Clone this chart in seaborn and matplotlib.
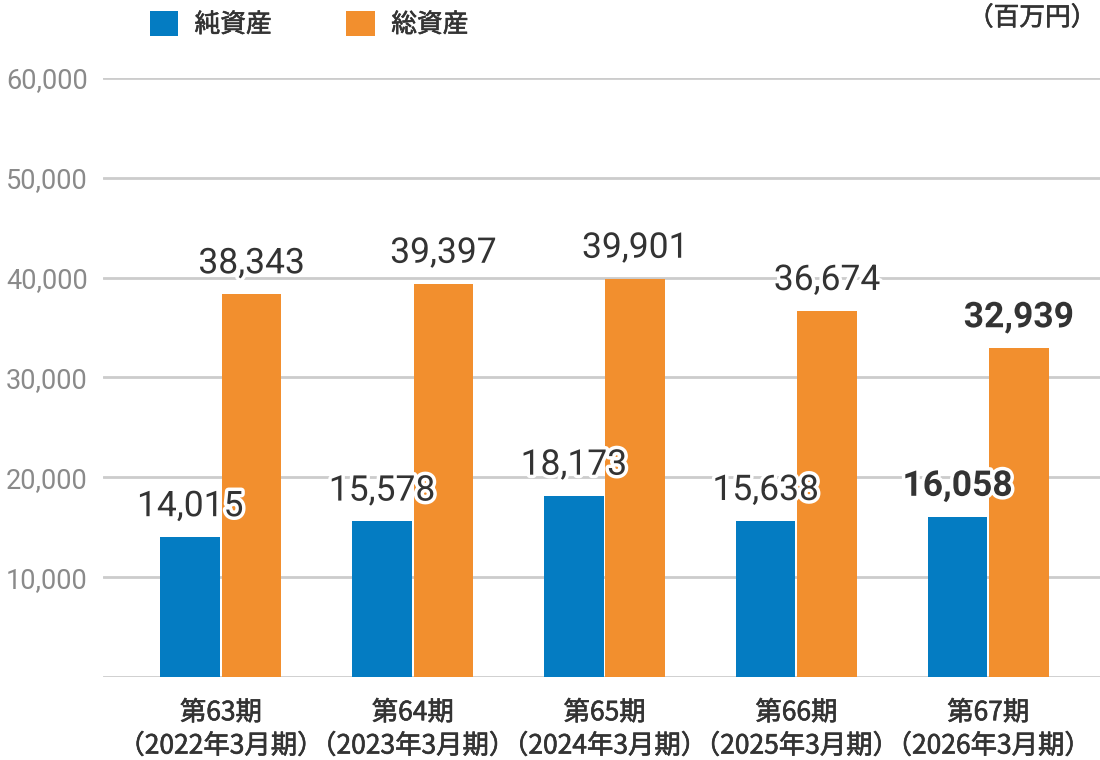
import matplotlib
matplotlib.use("Agg")
import matplotlib.pyplot as plt
import matplotlib.patheffects as pe
import seaborn as sns
import pandas as pd

periods = ["第63期", "第64期", "第65期", "第66期", "第67期"]
fiscal_years = ["（2022年3月期）", "（2023年3月期）", "（2024年3月期）", "（2025年3月期）", "（2026年3月期）"]
net_assets = [14015, 15578, 18173, 15638, 16058]
total_assets = [38343, 39397, 39901, 36674, 32939]
series_names = ["純資産", "総資産"]
y_ticks = [10000, 20000, 30000, 40000, 50000, 60000]
unit_label = "（百万円）"

BLUE = "#047CC2"
ORANGE = "#F28F2E"
DARK = "#333333"

sns.set_theme(style="white")
plt.rcParams["font.family"] = ["Roboto", "Noto Sans CJK JP", "DejaVu Sans"]
CJK = ["Noto Sans CJK JP", "DejaVu Sans"]
medium = [pe.withStroke(linewidth=0.45, foreground=DARK)]

cats = [f"{p}\n{y}" for p, y in zip(periods, fiscal_years)]
df = pd.DataFrame({
    "cat": cats * 2,
    "series": [series_names[0]] * len(cats) + [series_names[1]] * len(cats),
    "value": net_assets + total_assets,
})

fig = plt.figure(figsize=(11, 7.6), dpi=100)
ax = fig.add_axes([0.0936, 0.1092, 0.9064, 0.7882])

sns.barplot(data=df, x="cat", y="value", hue="series", palette=[BLUE, ORANGE],
            width=0.64, gap=0.03, ax=ax, saturation=1, linewidth=0, zorder=2)

ax.set_ylim(0, 60000)
ax.set_xlim(-0.615, 4.583)
ax.set_yticks(y_ticks)
ax.set_yticklabels([f"{v:,}" for v in y_ticks], fontsize=19.5, color="#8a8a8a")
ax.tick_params(axis="y", length=0, pad=11)
ax.tick_params(axis="x", length=0, pad=16, labelcolor=DARK)
for lab in ax.get_xticklabels():
    lab.set_linespacing(1.3)
    lab.set_fontfamily(CJK)
    lab.set_fontsize(19)
    lab.set_path_effects(medium)
ax.set_xlabel("")
ax.set_ylabel("")
ax.grid(axis="y", color="#cccccc", linewidth=2, zorder=0)
ax.axhline(0, color="#cccccc", linewidth=2, zorder=1)
for s in ax.spines.values():
    s.set_visible(False)

stroke = [pe.withStroke(linewidth=5, foreground="white")]
n = len(cats)
for ci, cont in enumerate(ax.containers):
    for i, bar in enumerate(cont):
        val = bar.get_height()
        bold = (i == n - 1)
        ax.annotate(f"{int(round(val)):,}",
                    xy=(bar.get_x() + bar.get_width() / 2, val),
                    xytext=(0, 10), textcoords="offset points",
                    ha="center", va="bottom", fontsize=25.5,
                    fontweight="bold" if bold else "normal",
                    color=DARK, path_effects=stroke, zorder=5,
                    annotation_clip=False)

sns.move_legend(ax, loc="center left", bbox_to_anchor=(0.136, 0.968),
                bbox_transform=fig.transFigure, ncol=2, frameon=False,
                title=None, fontsize=18.5, handlelength=1.1, handleheight=1.15,
                handletextpad=0.65, columnspacing=2.9, borderpad=0, borderaxespad=0)
for t in ax.get_legend().get_texts():
    t.set_color(DARK)
    t.set_fontfamily(CJK)
    t.set_path_effects(medium)

fig.text(0.997, 0.976, unit_label, ha="right", va="center", fontsize=18.5,
         color=DARK, family=CJK, path_effects=medium)

fig.savefig("out.png", dpi=100)
